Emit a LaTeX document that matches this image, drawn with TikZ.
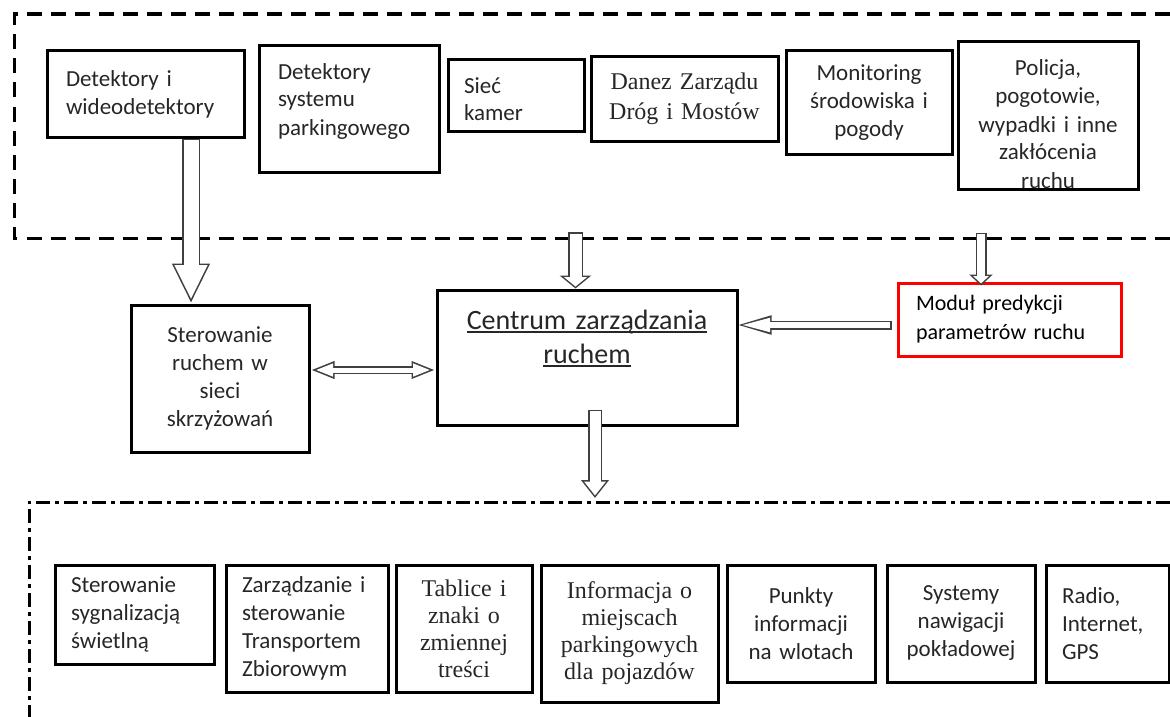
\documentclass[tikz,border=0pt]{standalone}
\usepackage[svgnames]{xcolor}
\usepackage{fontspec}
\setmainfont{Carlito}
\newfontfamily\serifface{Liberation Serif}
\usepackage{tikz}
\usetikzlibrary{arrows.meta}
\usetikzlibrary{calc}
\pgfdeclarelayer{framelayer}
\pgfdeclarelayer{nodelayer}
\pgfsetlayers{framelayer,nodelayer,main}
\newcommand{\ulined}[1]{\leavevmode\setbox0\hbox{#1}\rlap{\rule[-4pt]{\wd0}{1.8pt}}\box0}
\tikzstyle{none}=[inner sep=0pt]
\tikzstyle{box}=[rectangle,draw=Black,line width=3pt,inner sep=0pt,text=Black!85,align=center,font=\fontsize{23pt}{28pt}\selectfont]
\tikzstyle{leftbox}=[box,align=left]
\tikzstyle{serifbox}=[box,font=\serifface\fontsize{24pt}{27pt}\selectfont]
\tikzstyle{redbox}=[box,draw=Red]
\tikzstyle{dashframe}=[-,draw=Black,line width=3.5pt,dash pattern=on 15pt off 9pt]
\tikzstyle{dotframe}=[-,draw=Black,line width=3pt,dash pattern=on 14pt off 5pt on 4pt off 5pt]
% hollow block arrows: shaft width, head width, head length (pt)
\tikzset{
	hollow/.code n args={3}{%
		\pgfmathsetmacro\hollowang{atan((#2/2)/#3)}%
		\pgfmathsetmacro\hollowtip{1.5/sin(\hollowang)}%
		\pgfmathsetmacro\hollowlen{#3-\hollowtip-1.5}%
		\pgfmathsetmacro\hollowwid{2*((#2/2)*(#3-1.5)/#3-1.5/cos(\hollowang))}%
		\pgfmathsetmacro\hollowshaft{#1-3}%
		\edef\hollowopts{line width=#1pt,draw=Black!75,-{Triangle[length=#3pt,width=#2pt]},
			postaction={draw=White,line width=\hollowshaft pt,shorten >=\hollowtip pt,shorten <=1.5pt,
			-{Triangle[length=\hollowlen pt,width=\hollowwid pt]}}}%
		\expandafter\tikzset\expandafter{\hollowopts}%
	},
	hollowboth/.code n args={3}{%
		\pgfmathsetmacro\hollowang{atan((#2/2)/#3)}%
		\pgfmathsetmacro\hollowtip{1.5/sin(\hollowang)}%
		\pgfmathsetmacro\hollowlen{#3-\hollowtip-1.5}%
		\pgfmathsetmacro\hollowwid{2*((#2/2)*(#3-1.5)/#3-1.5/cos(\hollowang))}%
		\pgfmathsetmacro\hollowshaft{#1-3}%
		\edef\hollowopts{line width=#1pt,draw=Black!75,{Triangle[length=#3pt,width=#2pt]}-{Triangle[length=#3pt,width=#2pt]},
			postaction={draw=White,line width=\hollowshaft pt,shorten >=\hollowtip pt,shorten <=\hollowtip pt,
			{Triangle[length=\hollowlen pt,width=\hollowwid pt]}-{Triangle[length=\hollowlen pt,width=\hollowwid pt]}}}%
		\expandafter\tikzset\expandafter{\hollowopts}%
	},
}

\begin{document}
\begin{tikzpicture}[x=1pt,y=-1pt]
	\useasboundingbox (0,0) rectangle (1170,717);
	\begin{pgfonlayer}{nodelayer}
		% sources
		\node [style=leftbox,minimum width=197pt,minimum height=86pt,text width=159pt] (0) at (145.5, 94) {Detektory i\\wideodetektory};
		\node [style=leftbox,minimum width=180pt,minimum height=126pt,text width=142pt,text height=15pt,text depth=75pt] (1) at (349, 109) {Detektory\\systemu\\parkingowego};
		\node [style=leftbox,minimum width=136pt,minimum height=71pt,text width=104pt,text height=15pt,text depth=20pt] (2) at (516, 95.5) {Sieć\\kamer};
		\node [style=serifbox,minimum width=187pt,minimum height=84pt,text width=171pt,font=\serifface\fontsize{24pt}{30pt}\selectfont] (3) at (684.5, 99) {Danez Zarządu\\Dróg i Mostów};
		\node [style=box,minimum width=166pt,minimum height=103pt,text width=150pt] (4) at (869, 102.5) {Monitoring\\środowiska i\\pogody};
		\node [style=box,minimum width=180pt,minimum height=147pt,text width=164pt,text height=15pt,text depth=94pt] (5) at (1048, 115.5) {Policja,\\pogotowie,\\wypadki i inne\\zakłócenia\\ruchu};
		% centre
		\node [style=box,minimum width=178pt,minimum height=147pt,text width=162pt] (6) at (220, 378.5) {Sterowanie\\ruchem w\\sieci\\skrzyżowań};
		\node [style=box,minimum width=300pt,minimum height=135pt,text width=284pt,font=\fontsize{28pt}{34pt}\selectfont,text height=20pt,text depth=77pt] (7) at (587, 357.5) {\ulined{Centrum zarządzania}\\\ulined{ruchem}};
		\node [style=redbox,align=left,minimum width=223pt,minimum height=73pt,text width=187pt,text=Black,font=\fontsize{22pt}{29pt}\selectfont] (8) at (1009.5, 319.5) {Moduł predykcji\\parametrów ruchu};
		% outputs
		\node [style=leftbox,minimum width=159pt,minimum height=99pt,text width=127pt] (9) at (134.5, 614.5) {Sterowanie\\sygnalizacją\\świetlną};
		\node [style=leftbox,minimum width=162pt,minimum height=127pt,text width=130pt] (10) at (307, 628.5) {Zarządzanie i\\sterowanie\\Transportem\\Zbiorowym};
		\node [style=serifbox,minimum width=136pt,minimum height=127pt,text width=120pt] (11) at (464, 628.5) {Tablice i\\znaki o\\zmiennej\\treści};
		\node [style=serifbox,minimum width=177pt,minimum height=137pt,text width=165pt] (12) at (629.5, 633.5) {Informacja o\\miejscach\\parkingowych\\dla pojazdów};
		\node [style=box,minimum width=148pt,minimum height=117pt,text width=132pt] (13) at (801, 623.5) {Punkty\\informacji\\na wlotach};
		\node [style=box,minimum width=148pt,minimum height=117pt,text width=132pt] (14) at (961, 623.5) {Systemy\\nawigacji\\pokładowej};
		\node [style=leftbox,minimum width=123pt,minimum height=117pt,text width=91pt] (15) at (1107.5, 623.5) {Radio,\\Internet,\\GPS};
	\end{pgfonlayer}
	\begin{pgfonlayer}{framelayer}
		\node [style=none] (16) at (14.5, 14) {};
		\node [style=none] (17) at (14.5, 238.5) {};
		\node [style=none] (18) at (1170, 14) {};
		\node [style=none] (19) at (1170, 238.5) {};
		\node [style=none] (20) at (1170, 502) {};
		\node [style=none] (21) at (29, 502) {};
		\node [style=none] (22) at (29, 717) {};
		\node [style=none] (23) at (575.5, 238.5) {};
		\node [style=none] (24) at (981, 238.5) {};
		\node [style=none] (25) at (595, 502) {};
		\draw [style=dashframe] (18.center) to (16.center) to (17.center) to (19.center);
		\draw [style=dotframe] (20.center) to (21.center) to (22.center);
	\end{pgfonlayer}
	\draw [hollow={18}{35}{40}] ([xshift=45.5pt]0.south) to ([xshift=-29pt]6.north);
	\draw [hollow={15}{31}{13}] ($(23.center)+(0,-6.5)$) to (7.north -| 23.center);
	\draw [hollow={11}{23}{11}] ($(24.center)+(0,-6)$) to ($(8.north -| 24.center)+(0,4)$);
	\draw [hollow={9}{16}{40}] ([xshift=-5pt,yshift=-5.5pt]8.west) to ([xshift=-7pt,yshift=32.5pt]7.east);
	\draw [hollowboth={8}{16}{24}] ([yshift=8.5pt]6.east) to ([yshift=-12.5pt]7.west);
	\draw [hollow={14}{27}{18}] ([xshift=8pt,yshift=17pt]7.south) to ($(25.center)+(0,-4)$);
\end{tikzpicture}
\end{document}
